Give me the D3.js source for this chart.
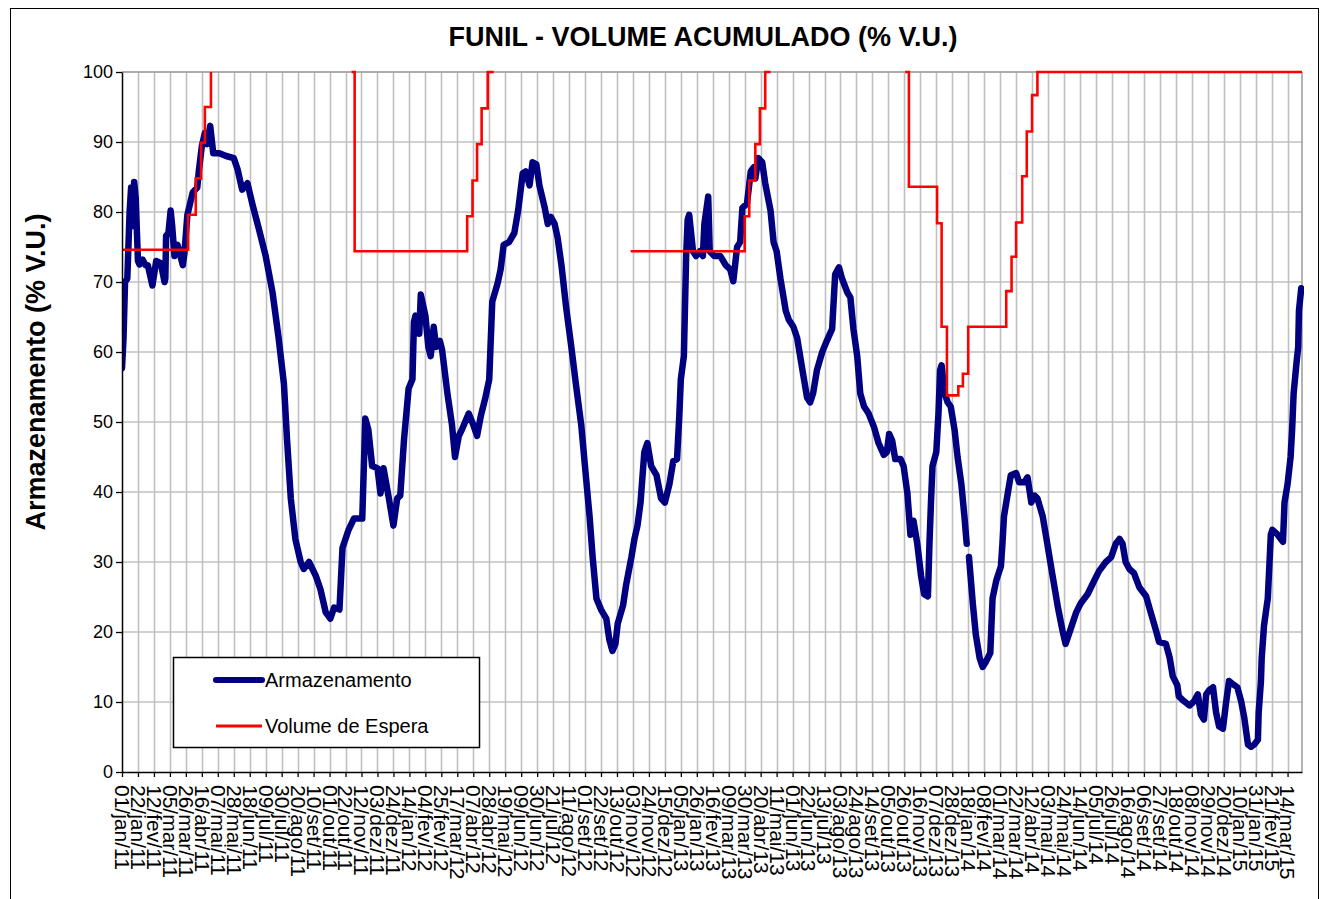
<!DOCTYPE html>
<html>
<head>
<meta charset="utf-8">
<script src="https://cdn.jsdelivr.net/npm/d3@7"></script>
<style>
  html, body { margin: 0; padding: 0; background: #ffffff; }
  svg { display: block; font-family: "Liberation Sans", Arial, sans-serif; }
</style>
</head>
<body>
<svg id="chart" width="1325" height="899"></svg>
<script>
// ---------------- DATA ----------------
const chartTitle = "FUNIL - VOLUME ACUMULADO (% V.U.)";
const yAxisTitle = "Armazenamento (% V.U.)";
const seriesNames = ["Armazenamento", "Volume de Espera"];
const startDate = "2011-01-01";
const endDate = "2015-04-02";
const tickStepDays = 21;
const tickLabels = [
  "01/jan/11","22/jan/11","12/fev/11","05/mar/11","26/mar/11","16/abr/11","07/mai/11","28/mai/11",
  "18/jun/11","09/jul/11","30/jul/11","20/ago/11","10/set/11","01/out/11","22/out/11","12/nov/11",
  "03/dez/11","24/dez/11","14/jan/12","04/fev/12","25/fev/12","17/mar/12","07/abr/12","28/abr/12",
  "19/mai/12","09/jun/12","30/jun/12","21/jul/12","11/ago/12","01/set/12","22/set/12","13/out/12",
  "03/nov/12","24/nov/12","15/dez/12","05/jan/13","26/jan/13","16/fev/13","09/mar/13","30/mar/13",
  "20/abr/13","11/mai/13","01/jun/13","22/jun/13","13/jul/13","03/ago/13","24/ago/13","14/set/13",
  "05/out/13","26/out/13","16/nov/13","07/dez/13","28/dez/13","18/jan/14","08/fev/14","01/mar/14",
  "22/mar/14","12/abr/14","03/mai/14","24/mai/14","14/jun/14","05/jul/14","26/jul/14","16/ago/14",
  "06/set/14","27/set/14","18/out/14","08/nov/14","29/nov/14","20/dez/14","10/jan/15","31/jan/15",
  "21/fev/15","14/mar/15"
];
const yTicks = [0,10,20,30,40,50,60,70,80,90,100];

// [days since startDate, % V.U.]  (null = no data)
const armazenamento = [
  [0,57.7],[2,62],[4,70],[7,70.5],[10,80],[12,83.5],[14,78],[16,84.3],[18,82],[20,76],[21,73],
  [23,72.5],[27,73.2],[31,72.4],[34,72.4],[40,69.5],[45,73],[51,72.7],[56,70],[57,70.5],[58,76.6],
  [61,77],[64,80.2],[66,78],[69,73.7],[73,75.3],[80,72.4],[82,74],[86,79.6],[93,82.8],[99,83.5],
  [101,85.8],[105,89.4],[109,91.3],[112,89.7],[116,92.3],[120,88.4],[128,88.4],[137,88],[147,87.7],
  [152,86.1],[158,83.2],[165,84.1],[172,80.9],[180,77.6],[189,73.7],[198,68.5],[206,62],[213,55.4],
  [217,47.6],[222,39.1],[228,33.3],[235,30],[239,29],[246,30],[255,28],[261,26.1],[268,22.8],
  [274,21.9],[279,23.5],[286,23.2],[290,32],[298,34.6],[305,36.2],[316,36.2],[320,50.5],[324,48.9],
  [329,43.7],[336,43.4],[340,39.8],[344,43.4],[351,39.1],[357,35.2],[362,39.1],[366,39.5],[371,47.6],
  [377,54.8],[382,56.1],[384,64.3],[386,65.2],[391,62.6],[393,68.2],[399,65.2],[403,60.7],[406,59.4],
  [410,63.6],[413,60.7],[418,61.6],[421,60.3],[428,54.1],[434,49.6],[438,45],[443,48],[447,48.9],
  [456,51.2],[462,49.6],[467,48],[472,50.9],[478,53.5],[483,56.1],[487,67.2],[494,69.8],[498,71.8],
  [502,75.3],[509,75.7],[516,77],[521,80.2],[527,85.5],[531,85.8],[536,83.8],[540,87.1],[545,86.8],
  [549,83.8],[556,80.6],[560,78.3],[564,79.3],[569,78.3],[573,76.3],[578,72.4],[584,66.5],[591,60.7],
  [597,55.4],[604,49.6],[610,42.4],[615,36.5],[619,30.7],[624,24.8],[630,23.2],[637,21.9],[641,18.9],
  [645,17.3],[649,18.3],[652,21.2],[659,23.8],[663,26.7],[670,30.7],[674,33.3],[678,35.2],[682,38.5],
  [687,45.7],[691,47],[696,43.7],[703,42.4],[709,39.1],[714,38.5],[720,41.1],[725,44.4],[730,44.7],
  [733,50.9],[735,56.1],[739,59.4],[742,73.7],[744,78.9],[746,79.6],[751,74.4],[755,73.7],[760,74.4],
  [764,73.7],[766,78.3],[771,82.2],[773,74.4],[779,73.7],[787,73.7],[794,72.4],[800,71.8],[804,70.1],
  [809,75],[813,75.7],[816,80.6],[822,81.2],[827,85.8],[831,86.4],[833,84.8],[837,87.7],[842,87.1],
  [846,84.1],[853,80.2],[857,75.7],[861,74.4],[866,70.5],[873,65.9],[877,64.6],[883,63.6],[888,62],
  [895,57.4],[901,53.5],[905,52.8],[909,54.1],[914,57.4],[921,60],[927,61.6],[934,63.3],[938,71.1],
  [943,72.1],[947,70.5],[954,68.5],[958,67.8],[962,63.3],[967,59.4],[971,54.1],[976,52.2],[982,51.2],
  [989,49.3],[995,47],[1002,45.3],[1006,45.7],[1009,48.3],[1013,47.3],[1017,44.7],[1024,44.7],
  [1028,43.7],[1033,39.8],[1037,33.9],[1041,35.9],[1046,32.6],[1051,28],[1055,25.4],[1060,25.1],
  [1062,32.6],[1064,38.5],[1066,43.7],[1071,45.7],[1074,51.5],[1076,57.4],[1078,58.1],[1082,54.1],
  [1086,52.8],[1090,52.2],[1095,48.9],[1099,45],[1104,41.1],[1108,36.5],[1111,32.6],[1112,null],
  [1114,30.7],[1119,24.1],[1123,19.6],[1128,16.3],[1132,15],[1136,15.7],[1142,17],[1145,24.8],
  [1150,27.4],[1156,29.4],[1158,32.6],[1160,36.5],[1165,39.8],[1169,42.4],[1176,42.7],[1180,41.4],
  [1187,41.4],[1191,42.1],[1196,38.5],[1200,39.5],[1204,39.1],[1211,36.5],[1217,32.6],[1224,28],
  [1231,23.5],[1237,20.2],[1241,18.3],[1247,20.2],[1255,22.8],[1261,24.1],[1270,25.4],[1279,27.4],
  [1285,28.7],[1294,30],[1301,30.7],[1307,32.6],[1312,33.3],[1316,32.6],[1320,30],[1325,29],
  [1331,28.4],[1338,26.4],[1347,25.1],[1353,22.8],[1360,20.2],[1364,18.6],[1373,18.3],[1378,16.3],
  [1382,13.7],[1388,12.4],[1390,10.8],[1397,10.1],[1404,9.5],[1410,10.1],[1415,11.1],[1419,8.2],
  [1423,7.5],[1426,11.1],[1430,11.7],[1435,12.1],[1439,8.5],[1443,6.5],[1448,6.2],[1452,9.8],
  [1456,13],[1463,12.4],[1467,12.1],[1472,10.1],[1476,7.8],[1481,3.9],[1485,3.6],[1489,3.9],
  [1494,4.6],[1495,8.5],[1498,13],[1499,16.3],[1502,20.9],[1507,24.8],[1511,33.9],[1513,34.6],
  [1520,33.9],[1527,32.9],[1529,38.5],[1533,41.1],[1537,45],[1539,48.9],[1541,54.1],[1545,58.7],
  [1547,60.7],[1548,65.9],[1551,69.1]
];

// step series [days since startDate, % V.U.]  (null = not shown)
const volumeEspera = [
  [0,74.6],[87,79.6],[97,84.8],[104,89.9],[109,95],[117,100],[118,null],
  [302,100],[306,74.4],[454,79.4],[461,84.5],[467,89.7],[473,94.8],[481,100],[489,100],[490,null],
  [669,74.4],[819,79.4],[825,84.5],[833,89.7],[839,94.8],[846,100],[853,100],[854,null],
  [1030,100],[1035,83.6],[1072,78.4],[1078,63.6],[1085,53.8],[1100,55.1],[1106,56.9],[1113,63.6],
  [1163,68.7],[1170,73.6],[1176,78.5],[1184,85.1],[1190,91.5],[1197,96.7],[1204,100],[1552,100]
];

// ---------------- CHART ----------------
const svg = d3.select("#chart");
const plot = { left: 122, right: 1302, top: 72, bottom: 772 };
const FONT = '"Liberation Sans", Arial, sans-serif';
const t0 = d3.utcParse("%Y-%m-%d")(startDate);
const t1 = d3.utcParse("%Y-%m-%d")(endDate);
const toDate = d => d3.utcDay.offset(t0, d);

const x = d3.scaleUtc().domain([t0, t1]).range([plot.left, plot.right]);
const y = d3.scaleLinear().domain([0, 100]).range([plot.bottom, plot.top]);
const tickDates = tickLabels.map((_, i) => d3.utcDay.offset(t0, i * tickStepDays));

// outer frame
svg.append("rect").attr("x", 10.5).attr("y", 8.5).attr("width", 1308).attr("height", 900)
  .attr("fill", "#fff").attr("stroke", "#000").attr("stroke-width", 1);

// plot background
svg.append("rect").attr("x", plot.left).attr("y", plot.top)
  .attr("width", plot.right - plot.left).attr("height", plot.bottom - plot.top).attr("fill", "#fff");

// gridlines
const grid = svg.append("g");
grid.selectAll("line.v").data(tickDates.slice(1)).join("line")
  .attr("x1", d => Math.round(x(d)) + 0.5).attr("x2", d => Math.round(x(d)) + 0.5)
  .attr("y1", plot.top).attr("y2", plot.bottom)
  .attr("stroke", "#c0c0c0").attr("stroke-width", 1.6);
grid.selectAll("line.h").data(yTicks.slice(1)).join("line")
  .attr("x1", plot.left).attr("x2", plot.right)
  .attr("y1", d => y(d)).attr("y2", d => y(d))
  .attr("stroke", "#c0c0c0").attr("stroke-width", 1.6);
grid.append("line").attr("x1", plot.right).attr("x2", plot.right)
  .attr("y1", plot.top).attr("y2", plot.bottom)
  .attr("stroke", "#a0a0a0").attr("stroke-width", 1.6);
grid.append("line").attr("x1", plot.left).attr("x2", plot.right)
  .attr("y1", plot.top).attr("y2", plot.top)
  .attr("stroke", "#a0a0a0").attr("stroke-width", 1.6);

// clip
svg.append("clipPath").attr("id", "clip").append("rect")
  .attr("x", plot.left).attr("y", plot.top - 3)
  .attr("width", plot.right - plot.left + 2).attr("height", plot.bottom - plot.top + 3);

// Armazenamento line
const lineArm = d3.line()
  .defined(d => d[1] != null)
  .x(d => x(toDate(d[0]))).y(d => y(d[1]))
  .curve(d3.curveLinear);
svg.append("path").datum(armazenamento)
  .attr("clip-path", "url(#clip)")
  .attr("d", lineArm).attr("fill", "none")
  .attr("stroke", "#000080").attr("stroke-width", 6.5)
  .attr("stroke-linejoin", "round").attr("stroke-linecap", "round");

// Volume de Espera step line
const lineVE = d3.line()
  .defined(d => d[1] != null)
  .x(d => x(toDate(d[0]))).y(d => y(d[1]))
  .curve(d3.curveStepAfter);
svg.append("path").datum(volumeEspera)
  .attr("d", lineVE).attr("fill", "none")
  .attr("stroke", "#ff0000").attr("stroke-width", 2.6);

// axes
const xAxis = d3.axisBottom(x).tickValues(tickDates)
  .tickFormat((d, i) => tickLabels[i]).tickSize(5).tickSizeOuter(0);
const gx = svg.append("g").attr("transform", `translate(0,${plot.bottom})`).call(xAxis);
gx.select(".domain").attr("stroke", "#000").attr("stroke-width", 1.5);
gx.selectAll(".tick line").attr("stroke", "#000").attr("stroke-width", 1.3);
gx.selectAll(".tick text")
  .attr("transform", "rotate(90)")
  .attr("x", 13).attr("y", 0).attr("dy", "0.36em")
  .style("text-anchor", "start")
  .style("font-family", FONT).style("font-size", "21px").attr("fill", "#000");

const yAxis = d3.axisLeft(y).tickValues(yTicks).tickSize(6).tickSizeOuter(0).tickPadding(3);
const gy = svg.append("g").attr("transform", `translate(${plot.left},0)`).call(yAxis);
gy.select(".domain").attr("stroke", "#000").attr("stroke-width", 1.5);
gy.selectAll(".tick line").attr("stroke", "#000").attr("stroke-width", 1.3);
gy.selectAll(".tick text").style("font-family", FONT).style("font-size", "18px").attr("fill", "#000");

// title
svg.append("text").attr("x", 703).attr("y", 46).attr("text-anchor", "middle")
  .style("font-family", FONT).style("font-size", "27px").style("font-weight", "bold")
  .text(chartTitle);

// y axis title
svg.append("text").attr("transform", "translate(45,372) rotate(-90)")
  .attr("text-anchor", "middle")
  .style("font-family", FONT).style("font-size", "27px").style("font-weight", "bold")
  .text(yAxisTitle);

// legend
const lg = svg.append("g");
lg.append("rect").attr("x", 173.5).attr("y", 657.5).attr("width", 306).attr("height", 90)
  .attr("fill", "#fff").attr("stroke", "#000").attr("stroke-width", 1.5);
const legendItems = [
  { name: seriesNames[0], color: "#000080", width: 6, cap: "round", yy: 680 },
  { name: seriesNames[1], color: "#ff0000", width: 3, cap: "butt", yy: 726 }
];
legendItems.forEach(it => {
  lg.append("line").attr("x1", 216).attr("x2", 262).attr("y1", it.yy).attr("y2", it.yy)
    .attr("stroke", it.color).attr("stroke-width", it.width).attr("stroke-linecap", it.cap);
  lg.append("text").attr("x", 265).attr("y", it.yy).attr("dy", "0.36em")
    .style("font-family", FONT).style("font-size", "20px").text(it.name);
});
</script>
</body>
</html>
